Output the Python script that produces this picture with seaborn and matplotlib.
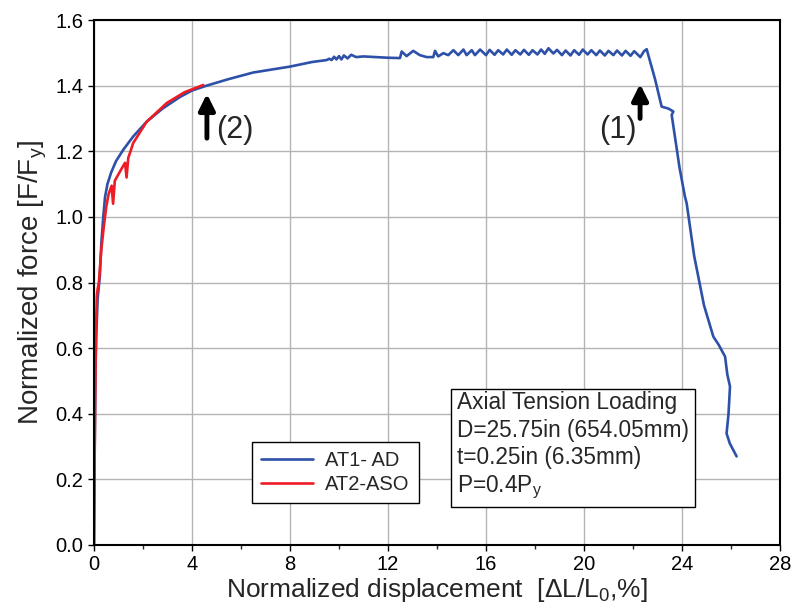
import matplotlib
matplotlib.use("Agg")
import matplotlib.pyplot as plt
import seaborn as sns
import pandas as pd
from matplotlib.ticker import MultipleLocator

# AT1-AD curve
at1_x = [0, 0.03, 0.06, 0.1, 0.15, 0.24, 0.3, 0.38, 0.45, 0.55, 0.7, 0.9, 1.2, 1.6,
         2.15, 2.8, 3.5, 4.0, 4.6, 5.5, 6.5, 7.5, 8.0, 8.9, 9.5, 9.6, 9.7, 9.8, 9.9,
         10.0, 10.1, 10.2, 10.35, 10.5, 10.7, 11.0, 12.0, 12.49,
         12.56, 12.76, 13.03, 13.3, 13.58, 13.85, 13.92, 14.05, 14.26, 14.46, 14.67,
         14.87, 15.08, 15.21, 15.42, 15.55, 15.76, 16.0, 16.15, 16.35, 16.5, 16.7,
         16.85, 17.05, 17.2, 17.4, 17.55, 17.75, 17.9, 18.1, 18.25, 18.4, 18.55,
         18.75, 18.9, 19.1, 19.25, 19.45, 19.6, 19.8, 19.95, 20.15, 20.3, 20.5,
         20.65, 20.85, 21.0, 21.2, 21.35, 21.55, 21.7, 21.9, 22.05, 22.3, 22.45,
         22.56, 22.6, 22.9, 23.17, 23.45, 23.65, 23.58, 23.9, 24.12, 24.19, 24.5,
         24.9, 25.28, 25.5, 25.76, 25.85, 25.96, 25.9, 25.82, 25.95, 26.23]
at1_y = [0, 0.3, 0.53, 0.65, 0.75, 0.82, 0.92, 1.0, 1.06, 1.10, 1.135, 1.17, 1.205,
         1.245, 1.29, 1.33, 1.365, 1.385, 1.40, 1.42, 1.44, 1.452, 1.458, 1.472,
         1.478, 1.482, 1.478, 1.488, 1.48, 1.49, 1.48, 1.492, 1.483, 1.494, 1.487,
         1.489, 1.485, 1.484,
         1.504, 1.49, 1.506, 1.493, 1.487, 1.487, 1.506, 1.489, 1.499, 1.493, 1.508,
         1.493, 1.51, 1.493, 1.508, 1.493, 1.51, 1.493, 1.509, 1.494, 1.508, 1.495,
         1.51, 1.494, 1.508, 1.495, 1.509, 1.494, 1.508, 1.495, 1.51, 1.497, 1.514,
         1.498, 1.509, 1.493, 1.507, 1.492, 1.508, 1.494, 1.51, 1.495, 1.508, 1.493,
         1.507, 1.492, 1.506, 1.493, 1.507, 1.492, 1.506, 1.491, 1.505, 1.487, 1.505,
         1.511, 1.50, 1.42, 1.336, 1.33, 1.321, 1.311, 1.15, 1.062, 1.042, 0.88,
         0.73, 0.635, 0.61, 0.574, 0.52, 0.483, 0.40, 0.34, 0.31, 0.27]

# AT2-ASO curve
at2_x = [0, 0.02, 0.05, 0.08, 0.12, 0.15, 0.2, 0.3, 0.4, 0.5, 0.6, 0.72, 0.78, 0.85,
         1.0, 1.15, 1.27, 1.33, 1.4, 1.47, 1.6, 2.15, 2.97, 3.7, 4.46]
at2_y = [0, 0.2, 0.45, 0.65, 0.76, 0.78, 0.80, 0.9, 0.97, 1.03, 1.07, 1.095, 1.04,
         1.11, 1.13, 1.15, 1.165, 1.12, 1.18, 1.195, 1.225, 1.29, 1.347, 1.38, 1.402]

df = pd.concat([
    pd.DataFrame({"x": at1_x, "y": at1_y, "test": "AT1- AD"}),
    pd.DataFrame({"x": at2_x, "y": at2_y, "test": "AT2-ASO"}),
])

sns.set_style("white")
plt.rcParams["font.family"] = ["Liberation Sans", "DejaVu Sans"]

fig = plt.figure(figsize=(7.95, 6.14), dpi=100)
ax = fig.add_axes([0.1182, 0.1124, 0.8629, 0.855])

sns.lineplot(data=df, x="x", y="y", hue="test", sort=False, estimator=None,
             palette={"AT1- AD": "#2d50a8", "AT2-ASO": "#ee1c25"},
             linewidth=1.9, ax=ax)

ax.set_xlim(0, 28)
ax.set_ylim(0, 1.6)
ax.xaxis.set_major_locator(MultipleLocator(4))
ax.xaxis.set_minor_locator(MultipleLocator(2))
ax.yaxis.set_major_locator(MultipleLocator(0.2))
ax.yaxis.set_major_formatter(matplotlib.ticker.FormatStrFormatter("%.1f"))
ax.grid(True, which="major", color="#b4b4b4", linewidth=1.0)
ax.set_axisbelow(True)
for s in ax.spines.values():
    s.set_color("black")
    s.set_linewidth(1.5)
ax.tick_params(which="major", direction="out", length=4, width=1, colors="black",
               labelsize=14.5, bottom=True, left=True)
ax.tick_params(which="minor", direction="out", length=3, width=1, bottom=True)

ax.set_xlabel("Normalized displacement  [ΔL/L$_\\mathregular{0}$,%]",
              fontsize=19, labelpad=1)
ax.set_ylabel("Normalized force [F/F$_\\mathregular{y}$]",
              fontsize=20, labelpad=5)

leg = ax.legend(loc="lower left", bbox_to_anchor=(0.230, 0.08), borderaxespad=0,
                fancybox=False, edgecolor="black", fontsize=14.5, handlelength=2.6,
                framealpha=1, borderpad=0.45, labelspacing=0.25, handletextpad=0.6)
leg.get_frame().set_linewidth(1.0)

ax.text(0.529, 0.293,
        "Axial Tension Loading\nD=25.75in (654.05mm)\nt=0.25in (6.35mm)\nP=0.4P$_\\mathregular{y}$",
        transform=ax.transAxes, ha="left", va="top", fontsize=16.3, linespacing=1.25,
        bbox=dict(boxstyle="square,pad=0.25", facecolor="white", edgecolor="black",
                  linewidth=1.0))

arrow = dict(arrowstyle="-|>", color="black", lw=3.5, mutation_scale=24,
             shrinkA=0, shrinkB=0)
ax.annotate("", xy=(4.61, 1.375), xytext=(4.61, 1.24), arrowprops=arrow)
ax.annotate("", xy=(22.29, 1.405), xytext=(22.29, 1.30), arrowprops=arrow)
ax.text(5.0, 1.265, "(2)", fontsize=22, ha="left", va="center")
ax.text(21.4, 1.265, "(1)", fontsize=22, ha="center", va="center")

fig.savefig("out.png", dpi=100)
